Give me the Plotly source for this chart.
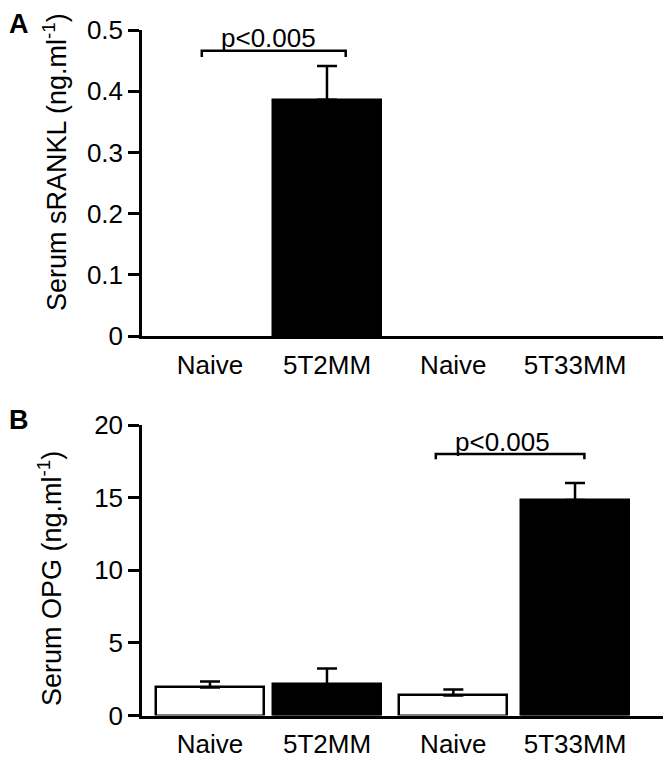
import plotly.graph_objects as go

# ---- data ----
groups = ["Naive", "5T2MM", "Naive", "5T33MM"]
group_pos = [0, 1, 2.08, 3.12]
fills = ["white", "black", "white", "black"]

srankl_mean = [0, 0.386, 0, 0]
srankl_sem = [None, 0.055, None, None]
srankl_ticks = [0, 0.1, 0.2, 0.3, 0.4, 0.5]
srankl_ticktext = ["0", "0.1", "0.2", "0.3", "0.4", "0.5"]

opg_mean = [1.93, 2.14, 1.38, 14.83]
opg_sem = [0.41, 1.10, 0.41, 1.17]
opg_ticks = [0, 5, 10, 15, 20]
opg_ticktext = ["0", "5", "10", "15", "20"]

# significance brackets: (x_start, x_end, y_level, y_drop, label_x, label_y)
sig_a = (-0.07, 1.16, 0.466, 0.456, 0.50, 0.487)
sig_b = (1.93, 3.20, 18.0, 17.65, 2.50, 18.85)
sig_text = "p<0.005"

FONT = "Liberation Sans, Arial, Helvetica, sans-serif"
LW = 2.5
W, H = 663, 755

fig = go.Figure()


def add_bars(means, sems, xa, ya):
    fig.add_trace(go.Bar(
        x=group_pos, y=means, width=0.923,
        marker=dict(color=fills,
                    line=dict(color="black",
                              width=[LW if m > 0 else 0 for m in means])),
        xaxis=xa, yaxis=ya, showlegend=False, hoverinfo="skip",
    ))
    idx = [i for i, s in enumerate(sems) if s is not None]
    fig.add_trace(go.Scatter(
        x=[group_pos[i] for i in idx], y=[means[i] for i in idx],
        mode="markers", marker=dict(size=1, opacity=0),
        error_y=dict(type="data", array=[sems[i] for i in idx],
                     arrayminus=[0] * len(idx), symmetric=False,
                     color="black", thickness=LW, width=10),
        xaxis=xa, yaxis=ya, showlegend=False, hoverinfo="skip",
    ))


add_bars(srankl_mean, srankl_sem, "x", "y")
add_bars(opg_mean, opg_sem, "x2", "y2")

xcommon = dict(range=[-0.581, 3.872], tickvals=group_pos, ticktext=groups,
               showline=True, linewidth=LW, linecolor="black", ticks="",
               ticklabelstandoff=4,
               showgrid=False, zeroline=False, fixedrange=True, automargin=False,
               tickfont=dict(size=26, color="black", family=FONT),
               domain=[134 / W, 655 / W])
ycommon = dict(ticks="outside", ticklen=11, tickwidth=LW, tickcolor="black",
               showline=True, linewidth=LW, linecolor="black",
               showgrid=False, zeroline=False, fixedrange=True, automargin=False,
               tickfont=dict(size=26, color="black", family=FONT))

fig.update_layout(
    width=W, height=H, autosize=False,
    margin=dict(l=0, r=0, t=0, b=0, pad=0),
    paper_bgcolor="white", plot_bgcolor="white",
    font=dict(family=FONT, color="black"),
    bargap=0,
    xaxis=dict(**xcommon, anchor="y"),
    yaxis=dict(**ycommon, anchor="x", domain=[1 - 328 / H, 1 - 22 / H], range=[0, 0.5],
               tickvals=srankl_ticks, ticktext=srankl_ticktext),
    xaxis2=dict(**xcommon, anchor="y2"),
    yaxis2=dict(**ycommon, anchor="x2", domain=[1 - 707.5 / H, 1 - 417 / H], range=[0, 20],
                tickvals=opg_ticks, ticktext=opg_ticktext),
)

for (x0, x1, yl, yd, lx, ly), xr, yr in [(sig_a, "x", "y"), (sig_b, "x2", "y2")]:
    fig.add_shape(type="path", xref=xr, yref=yr,
                  path=f"M {x0},{yd} L {x0},{yl} L {x1},{yl} L {x1},{yd}",
                  line=dict(color="black", width=LW))
    fig.add_annotation(x=lx, y=ly, xref=xr, yref=yr, text=sig_text,
                       showarrow=False, xanchor="center", yanchor="middle",
                       font=dict(size=26, color="black", family=FONT))

# axis titles
fig.add_annotation(x=47 / W, y=1 - 154 / H, xref="paper", yref="paper",
                   text="Serum sRANKL (ng.ml<sup>-1</sup>)", textangle=-90,
                   showarrow=False, xanchor="center", yanchor="middle",
                   font=dict(size=27, color="black", family=FONT))
fig.add_annotation(x=42 / W, y=1 - 571 / H, xref="paper", yref="paper",
                   text="Serum OPG (ng.ml<sup>-1</sup>)", textangle=-90,
                   showarrow=False, xanchor="center", yanchor="middle",
                   font=dict(size=27, color="black", family=FONT))

# panel letters
fig.add_annotation(x=0, y=1, xref="paper", yref="paper",
                   text="<b>A</b>", showarrow=False, xanchor="left", yanchor="top",
                   borderpad=0, font=dict(size=27, color="black", family=FONT))
fig.add_annotation(x=0, y=1 - 412 / H, xref="paper", yref="paper",
                   text="<b>B</b>", showarrow=False, xanchor="left", yanchor="middle",
                   borderpad=0, font=dict(size=27, color="black", family=FONT))

fig.write_html("out.html")
